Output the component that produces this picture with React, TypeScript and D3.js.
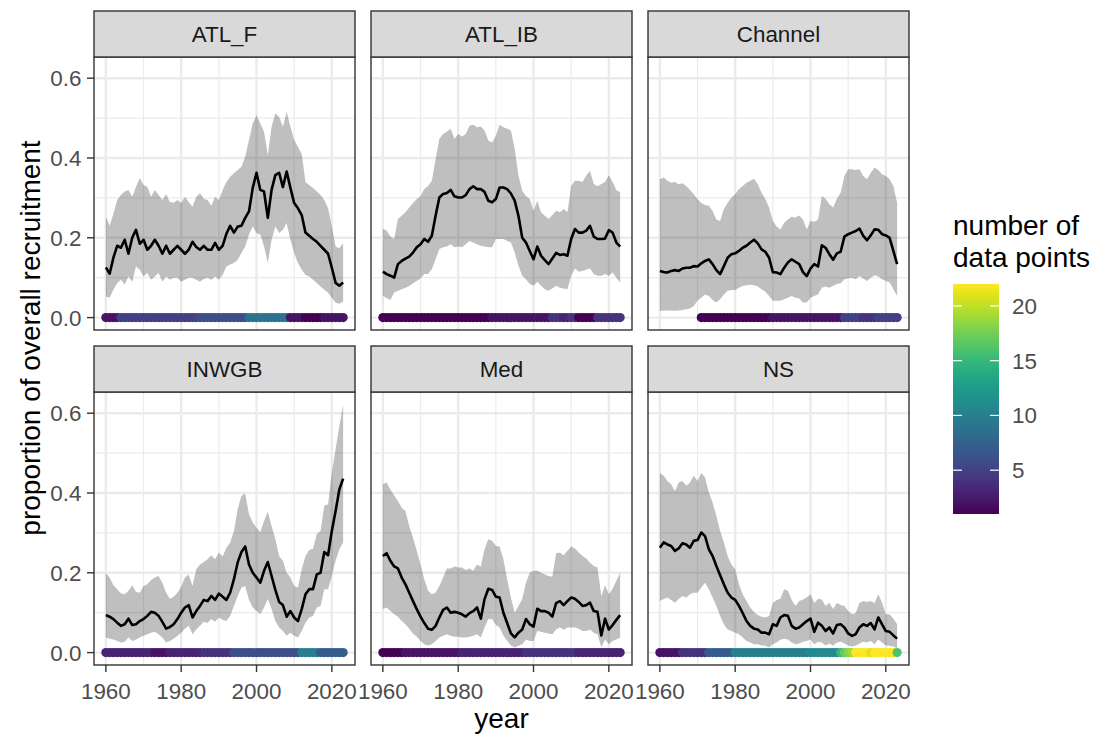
import React from 'react';
import * as d3 from 'd3';

const FIRST_YEAR = 1960;
const X_TICKS = [1960, 1980, 2000, 2020];
const X_MINOR = [1970, 1990, 2010];
const Y_TICKS = [0, 0.2, 0.4, 0.6];
const Y_MINOR = [0.1, 0.3, 0.5];
const LEGEND_TICKS = [5, 10, 15, 20];

const ATL_F_MEAN = [0.126,0.11,0.15,0.18,0.175,0.195,0.16,0.20,0.22,0.185,
 0.195,0.17,0.18,0.195,0.18,0.16,0.18,0.16,0.17,0.18,
 0.17,0.16,0.17,0.19,0.177,0.17,0.18,0.17,0.17,0.187,
 0.17,0.18,0.21,0.23,0.213,0.228,0.23,0.25,0.266,0.325,
 0.363,0.32,0.316,0.25,0.32,0.357,0.363,0.327,0.366,0.325,
 0.287,0.274,0.257,0.213,0.205,0.197,0.19,0.18,0.17,0.16,
 0.125,0.087,0.08,0.088];
const ATL_F_HI = [0.253,0.23,0.26,0.295,0.307,0.316,0.32,0.303,0.328,0.35,
 0.332,0.328,0.303,0.32,0.307,0.295,0.31,0.29,0.288,0.295,
 0.287,0.303,0.29,0.278,0.302,0.312,0.298,0.295,0.28,0.303,
 0.295,0.32,0.34,0.353,0.362,0.37,0.378,0.403,0.445,0.487,
 0.507,0.487,0.466,0.407,0.478,0.512,0.503,0.478,0.516,0.478,
 0.445,0.428,0.41,0.34,0.332,0.325,0.316,0.307,0.295,0.274,
 0.228,0.178,0.174,0.187];
const ATL_F_LO = [0.053,0.05,0.07,0.087,0.095,0.083,0.103,0.09,0.128,0.12,
 0.103,0.112,0.095,0.103,0.112,0.09,0.103,0.095,0.1,0.1,
 0.09,0.095,0.1,0.1,0.095,0.09,0.097,0.1,0.095,0.103,
 0.095,0.107,0.128,0.133,0.137,0.145,0.162,0.178,0.208,0.228,
 0.212,0.208,0.178,0.137,0.195,0.228,0.212,0.22,0.237,0.195,
 0.162,0.137,0.12,0.107,0.103,0.095,0.087,0.078,0.07,0.062,
 0.05,0.037,0.035,0.04];
const ATL_F_N = [2,2,2,2,5,5,5,5,5,5,
 5,5,5,5,5,5,5,5,5,5,
 5,5,5,5,5,6,6,6,6,6,
 6,6,6,6,6,6,6,6,9,9,
 9,9,9,9,9,9,9,9,9,2,
 2,2,2,1,1,1,1,1,2,2,
 2,2,2,2];

const ATL_IB_MEAN = [0.115,0.109,0.105,0.10,0.134,0.142,0.148,0.153,0.163,0.176,
 0.184,0.197,0.19,0.205,0.255,0.301,0.31,0.312,0.32,0.304,
 0.301,0.301,0.307,0.322,0.329,0.322,0.322,0.315,0.293,0.289,
 0.297,0.326,0.326,0.322,0.311,0.293,0.255,0.20,0.188,0.167,
 0.146,0.178,0.155,0.144,0.134,0.148,0.162,0.157,0.159,0.155,
 0.197,0.222,0.213,0.213,0.218,0.23,0.203,0.197,0.197,0.198,
 0.219,0.213,0.188,0.178];
const ATL_IB_HI = [0.222,0.218,0.203,0.197,0.247,0.255,0.264,0.276,0.287,0.297,
 0.305,0.322,0.33,0.343,0.397,0.448,0.46,0.466,0.473,0.448,
 0.46,0.454,0.46,0.481,0.483,0.477,0.479,0.469,0.444,0.439,
 0.456,0.483,0.477,0.473,0.469,0.423,0.356,0.318,0.305,0.297,
 0.268,0.293,0.264,0.255,0.247,0.257,0.268,0.264,0.272,0.264,
 0.33,0.343,0.343,0.34,0.356,0.368,0.335,0.329,0.335,0.34,
 0.357,0.34,0.32,0.314];
const ATL_IB_LO = [0.054,0.049,0.044,0.063,0.067,0.071,0.075,0.079,0.086,0.092,
 0.098,0.109,0.109,0.121,0.146,0.172,0.176,0.178,0.184,0.176,
 0.178,0.176,0.184,0.192,0.188,0.184,0.18,0.178,0.176,0.176,
 0.197,0.197,0.197,0.192,0.188,0.163,0.13,0.105,0.096,0.084,
 0.08,0.09,0.08,0.071,0.067,0.073,0.08,0.075,0.073,0.071,
 0.105,0.123,0.115,0.117,0.12,0.123,0.109,0.105,0.105,0.109,
 0.105,0.113,0.1,0.088];
const ATL_IB_N = [1,1,1,1,1,1,1,1,1,1,
 1,1,1,1,1,1,1,1,1,1,
 1,1,1,1,1,1,1,1,1,2,
 2,2,2,2,2,2,2,2,2,2,
 2,2,2,2,2,4,4,4,3,3,
 4,4,1,1,1,1,1,4,4,4,
 4,4,4,4];

const CHANNEL_MEAN = [0.117,0.114,0.113,0.117,0.119,0.117,0.123,0.125,0.125,0.129,
 0.128,0.136,0.142,0.146,0.134,0.119,0.109,0.129,0.15,0.159,
 0.161,0.167,0.175,0.18,0.188,0.195,0.186,0.171,0.165,0.15,
 0.114,0.113,0.109,0.125,0.138,0.146,0.14,0.134,0.114,0.104,
 0.123,0.134,0.128,0.181,0.175,0.159,0.145,0.161,0.165,0.203,
 0.209,0.213,0.217,0.223,0.205,0.194,0.206,0.221,0.22,0.209,
 0.206,0.2,0.167,0.134];
const CHANNEL_HI = [0.347,0.351,0.343,0.338,0.34,0.334,0.337,0.33,0.32,0.309,
 0.297,0.287,0.282,0.28,0.267,0.246,0.242,0.272,0.288,0.301,
 0.309,0.322,0.33,0.338,0.343,0.348,0.334,0.313,0.297,0.276,
 0.242,0.228,0.221,0.238,0.246,0.253,0.251,0.256,0.246,0.221,
 0.242,0.24,0.246,0.305,0.298,0.284,0.276,0.298,0.313,0.355,
 0.372,0.372,0.37,0.372,0.355,0.347,0.363,0.376,0.37,0.359,
 0.355,0.347,0.33,0.288];
const CHANNEL_LO = [0.017,0.017,0.018,0.018,0.017,0.018,0.019,0.021,0.023,0.029,
 0.042,0.05,0.058,0.054,0.044,0.038,0.046,0.058,0.067,0.069,
 0.069,0.075,0.079,0.081,0.082,0.081,0.078,0.071,0.065,0.054,
 0.042,0.042,0.042,0.046,0.05,0.054,0.05,0.048,0.038,0.038,
 0.05,0.054,0.058,0.075,0.078,0.075,0.079,0.084,0.086,0.096,
 0.098,0.1,0.096,0.104,0.098,0.092,0.1,0.106,0.103,0.096,
 0.092,0.088,0.071,0.054];
const CHANNEL_N = [0,0,0,0,0,0,0,0,0,0,
 0,1,1,1,1,1,1,1,1,1,
 1,1,1,1,1,1,1,1,1,1,
 2,2,2,2,2,2,2,2,2,2,
 2,2,2,2,2,2,2,2,2,5,
 5,5,5,5,4,4,4,4,5,5,
 5,5,5,5];

const INWGB_MEAN = [0.094,0.09,0.084,0.075,0.067,0.071,0.085,0.069,0.071,0.079,
 0.084,0.092,0.102,0.1,0.092,0.077,0.06,0.064,0.071,0.084,
 0.1,0.113,0.119,0.088,0.104,0.117,0.132,0.129,0.142,0.132,
 0.148,0.14,0.132,0.15,0.184,0.226,0.252,0.266,0.221,0.2,
 0.188,0.175,0.205,0.227,0.192,0.157,0.127,0.119,0.09,0.104,
 0.088,0.079,0.109,0.146,0.159,0.159,0.196,0.2,0.252,0.244,
 0.305,0.355,0.409,0.436];
const INWGB_HI = [0.199,0.188,0.169,0.159,0.149,0.146,0.155,0.169,0.152,0.15,
 0.167,0.171,0.182,0.188,0.192,0.175,0.15,0.135,0.14,0.15,
 0.165,0.188,0.196,0.167,0.209,0.221,0.227,0.234,0.244,0.234,
 0.251,0.241,0.263,0.276,0.305,0.359,0.393,0.399,0.347,0.326,
 0.313,0.302,0.33,0.353,0.317,0.284,0.242,0.23,0.2,0.188,
 0.167,0.163,0.209,0.242,0.257,0.26,0.297,0.305,0.368,0.372,
 0.451,0.51,0.568,0.622];
const INWGB_LO = [0.038,0.035,0.033,0.029,0.025,0.027,0.038,0.029,0.032,0.038,
 0.042,0.046,0.05,0.052,0.046,0.038,0.025,0.029,0.035,0.042,
 0.05,0.06,0.067,0.046,0.058,0.067,0.077,0.074,0.084,0.077,
 0.088,0.082,0.079,0.092,0.117,0.142,0.163,0.167,0.132,0.113,
 0.104,0.096,0.113,0.134,0.109,0.079,0.063,0.054,0.042,0.05,
 0.042,0.038,0.054,0.075,0.088,0.092,0.113,0.117,0.159,0.159,
 0.192,0.23,0.259,0.276];
const INWGB_N = [3,3,3,3,3,3,3,3,3,3,
 3,3,3,2,2,2,2,3,3,3,
 3,3,3,3,3,3,4,4,4,4,
 4,4,4,4,6,6,6,6,6,6,
 6,6,6,6,6,6,6,6,6,6,
 6,6,10,10,10,10,10,7,7,7,
 7,7,7,7];

const MED_MEAN = [0.242,0.249,0.23,0.216,0.211,0.188,0.171,0.15,0.129,0.109,
 0.09,0.074,0.06,0.057,0.067,0.088,0.107,0.113,0.1,0.102,
 0.1,0.096,0.09,0.099,0.104,0.113,0.085,0.134,0.16,0.157,
 0.14,0.138,0.1,0.074,0.048,0.038,0.05,0.058,0.084,0.071,
 0.065,0.11,0.104,0.104,0.1,0.09,0.124,0.129,0.119,0.129,
 0.138,0.135,0.127,0.117,0.119,0.125,0.104,0.102,0.043,0.085,
 0.058,0.069,0.082,0.094];
const MED_HI = [0.422,0.426,0.409,0.394,0.38,0.363,0.355,0.317,0.288,0.255,
 0.221,0.184,0.155,0.146,0.15,0.167,0.188,0.211,0.211,0.216,
 0.213,0.213,0.207,0.211,0.205,0.221,0.216,0.259,0.284,0.28,
 0.267,0.266,0.234,0.184,0.138,0.1,0.117,0.134,0.175,0.2,
 0.205,0.205,0.2,0.196,0.192,0.19,0.249,0.251,0.244,0.255,
 0.266,0.261,0.251,0.242,0.236,0.226,0.217,0.213,0.142,0.169,
 0.146,0.16,0.18,0.2];
const MED_LO = [0.109,0.113,0.104,0.096,0.09,0.079,0.071,0.06,0.048,0.04,
 0.029,0.021,0.018,0.021,0.029,0.038,0.042,0.046,0.042,0.04,
 0.04,0.038,0.038,0.04,0.042,0.046,0.038,0.063,0.084,0.084,
 0.069,0.063,0.043,0.029,0.018,0.013,0.017,0.021,0.032,0.029,
 0.029,0.054,0.052,0.05,0.048,0.046,0.058,0.063,0.057,0.063,
 0.063,0.063,0.06,0.054,0.054,0.058,0.05,0.046,0.013,0.033,
 0.021,0.029,0.033,0.038];
const MED_N = [1,1,1,1,1,1,2,2,2,2,
 2,2,2,2,2,2,2,2,2,2,
 2,3,3,3,3,3,3,3,3,3,
 3,3,3,3,3,3,3,3,4,4,
 4,4,4,4,4,4,4,4,4,4,
 4,4,3,3,3,3,3,3,3,3,
 3,3,3,3];

const NS_MEAN = [0.263,0.276,0.271,0.267,0.255,0.261,0.274,0.271,0.263,0.28,
 0.282,0.301,0.292,0.259,0.242,0.217,0.194,0.171,0.15,0.138,
 0.132,0.117,0.099,0.079,0.067,0.06,0.058,0.05,0.05,0.046,
 0.071,0.067,0.088,0.094,0.092,0.067,0.06,0.063,0.071,0.079,
 0.085,0.052,0.075,0.067,0.054,0.063,0.048,0.069,0.071,0.063,
 0.048,0.042,0.046,0.063,0.071,0.067,0.074,0.058,0.088,0.071,
 0.054,0.052,0.043,0.035];
const NS_HI = [0.451,0.443,0.43,0.422,0.405,0.426,0.43,0.418,0.426,0.443,
 0.43,0.451,0.439,0.401,0.376,0.343,0.305,0.276,0.242,0.221,
 0.209,0.171,0.146,0.129,0.113,0.102,0.094,0.09,0.088,0.092,
 0.124,0.132,0.135,0.159,0.155,0.132,0.117,0.129,0.133,0.138,
 0.146,0.124,0.135,0.133,0.117,0.125,0.109,0.124,0.119,0.117,
 0.104,0.096,0.099,0.125,0.129,0.127,0.129,0.124,0.146,0.125,
 0.096,0.096,0.085,0.071];
const NS_LO = [0.129,0.134,0.138,0.132,0.125,0.134,0.142,0.138,0.146,0.15,
 0.15,0.163,0.175,0.159,0.138,0.117,0.092,0.071,0.058,0.054,
 0.05,0.046,0.038,0.029,0.025,0.021,0.021,0.018,0.017,0.013,
 0.021,0.025,0.032,0.035,0.033,0.025,0.021,0.023,0.027,0.029,
 0.033,0.021,0.027,0.025,0.018,0.023,0.017,0.025,0.027,0.023,
 0.018,0.015,0.017,0.023,0.027,0.025,0.029,0.021,0.033,0.025,
 0.018,0.017,0.015,0.01];
const NS_N = [2,2,2,2,2,2,4,4,4,4,
 4,4,4,7,7,7,7,7,7,7,
 10,10,10,10,10,10,10,10,10,10,
 10,10,10,10,10,10,10,10,10,10,
 11,11,11,11,11,11,11,11,15,17,
 18,19,22,22,22,22,21,22,22,22,
 22,22,22,16];

const PANELS = [
  { name: 'ATL_F', mean: ATL_F_MEAN, lo: ATL_F_LO, hi: ATL_F_HI, n: ATL_F_N },
  { name: 'ATL_IB', mean: ATL_IB_MEAN, lo: ATL_IB_LO, hi: ATL_IB_HI, n: ATL_IB_N },
  { name: 'Channel', mean: CHANNEL_MEAN, lo: CHANNEL_LO, hi: CHANNEL_HI, n: CHANNEL_N },
  { name: 'INWGB', mean: INWGB_MEAN, lo: INWGB_LO, hi: INWGB_HI, n: INWGB_N },
  { name: 'Med', mean: MED_MEAN, lo: MED_LO, hi: MED_HI, n: MED_N },
  { name: 'NS', mean: NS_MEAN, lo: NS_LO, hi: NS_HI, n: NS_N },
];

const FONT = "'Liberation Sans', Arial, Helvetica, sans-serif";

export default function App() {
  const W = 1099, H = 736;
  const colX = [94, 371, 648];
  const PW = 261;
  const stripTop = [11, 346];
  const SH = 46;
  const PH = 273;

  const years = ATL_F_MEAN.map((_, i) => FIRST_YEAR + i);
  const x0 = d3.min(years) as number, x1 = d3.max(years) as number;
  const xPad = (x1 - x0) * 0.05;
  const yMax = d3.max(PANELS.flatMap(p => p.hi)) as number;
  const yMin = 0;
  const yPad = (yMax - yMin) * 0.05;

  const allN = PANELS.flatMap(p => p.n).filter(v => v > 0);
  const nMin = d3.min(allN) as number, nMax = d3.max(allN) as number;
  const color = d3.scaleSequential(d3.interpolateViridis).domain([nMin, nMax]);

  const tickCol = '#333333';
  const labCol = '#4D4D4D';
  const gridCol = '#EBEBEB';

  // legend geometry
  const LX = 953, LW = 46, LTop = 284, LBot = 514;
  const ly = d3.scaleLinear().domain([nMin, nMax]).range([LBot, LTop]);
  const stops = d3.range(0, 1.0001, 0.05);

  return (
    <svg width={W} height={H} style={{ position: 'absolute', left: 0, top: 0, background: '#fff' }} fontFamily={FONT}>
      <rect x={0} y={0} width={W} height={H} fill="#fff" />
      <defs>
        <linearGradient id="vir" x1="0" y1="1" x2="0" y2="0">
          {stops.map((t, i) => (
            <stop key={i} offset={t} stopColor={d3.interpolateViridis(t)} />
          ))}
        </linearGradient>
      </defs>
      {PANELS.map((p, pi) => {
        const col = pi % 3, row = Math.floor(pi / 3);
        const px = colX[col];
        const st = stripTop[row];
        const pt = st + SH;
        const pb = pt + PH;
        const x = d3.scaleLinear().domain([x0 - xPad, x1 + xPad]).range([px, px + PW]);
        const y = d3.scaleLinear().domain([yMin - yPad, yMax + yPad]).range([pb, pt]);
        const area = d3.area<number>()
          .x((_, i) => x(years[i]))
          .y0((_, i) => y(p.lo[i]))
          .y1((_, i) => y(p.hi[i]));
        const line = d3.line<number>()
          .x((_, i) => x(years[i]))
          .y(d => y(d));
        return (
          <g key={p.name}>
            <rect x={px} y={pt} width={PW} height={PH} fill="#fff" />
            {Y_MINOR.map(v => (
              <line key={'ym' + v} x1={px} x2={px + PW} y1={y(v)} y2={y(v)} stroke={gridCol} strokeWidth={1.2} />
            ))}
            {X_MINOR.map(v => (
              <line key={'xm' + v} x1={x(v)} x2={x(v)} y1={pt} y2={pb} stroke={gridCol} strokeWidth={1.2} />
            ))}
            {Y_TICKS.map(v => (
              <line key={'yM' + v} x1={px} x2={px + PW} y1={y(v)} y2={y(v)} stroke={gridCol} strokeWidth={2.4} />
            ))}
            {X_TICKS.map(v => (
              <line key={'xM' + v} x1={x(v)} x2={x(v)} y1={pt} y2={pb} stroke={gridCol} strokeWidth={2.4} />
            ))}
            <path d={area(p.mean) as string} fill="#000" fillOpacity={0.25} />
            <path d={line(p.mean) as string} fill="none" stroke="#000" strokeWidth={2.6} strokeLinejoin="round" />
            {p.n.map((c, i) => c > 0 ? (
              <circle key={'pt' + i} cx={x(years[i])} cy={y(0)} r={4.6} fill={color(c)} />
            ) : null)}
            <rect x={px} y={pt} width={PW} height={PH} fill="none" stroke="#333333" strokeWidth={1.4} />
            <rect x={px} y={st} width={PW} height={SH} fill="#D9D9D9" stroke="#333333" strokeWidth={1.4} />
            <text x={px + PW / 2} y={st + SH / 2} dy="0.36em" textAnchor="middle" fontSize={22.4} fill="#1A1A1A">{p.name}</text>
            {col === 0 && Y_TICKS.map(v => (
              <g key={'yt' + v}>
                <line x1={px - 7} x2={px} y1={y(v)} y2={y(v)} stroke={tickCol} strokeWidth={1.4} />
                <text x={px - 12.5} y={y(v)} dy="0.36em" textAnchor="end" fontSize={22.4} fill={labCol}>{d3.format('.1f')(v)}</text>
              </g>
            ))}
            {row === 1 && X_TICKS.map(v => (
              <g key={'xt' + v}>
                <line x1={x(v)} x2={x(v)} y1={pb} y2={pb + 7} stroke={tickCol} strokeWidth={1.4} />
                <text x={x(v)} y={pb + 34} textAnchor="middle" fontSize={22.4} fill={labCol}>{v}</text>
              </g>
            ))}
          </g>
        );
      })}
      <text x={(colX[0] + colX[2] + PW) / 2} y={728} textAnchor="middle" fontSize={28} fill="#000">year</text>
      <text transform={`translate(40,${(stripTop[0] + stripTop[1] + SH + PH) / 2}) rotate(-90)`} textAnchor="middle" fontSize={28} fill="#000">proportion of overall recruitment</text>
      <text x={LX} y={235} fontSize={28} fill="#000">number of</text>
      <text x={LX} y={267} fontSize={28} fill="#000">data points</text>
      <rect x={LX} y={LTop} width={LW} height={LBot - LTop} fill="url(#vir)" />
      {LEGEND_TICKS.map(v => (
        <g key={'lt' + v}>
          <line x1={LX} x2={LX + 9} y1={ly(v)} y2={ly(v)} stroke="#fff" strokeWidth={1.2} />
          <line x1={LX + LW - 9} x2={LX + LW} y1={ly(v)} y2={ly(v)} stroke="#fff" strokeWidth={1.2} />
          <text x={LX + LW + 13} y={ly(v)} dy="0.36em" fontSize={22.4} fill={labCol}>{v}</text>
        </g>
      ))}
    </svg>
  );
}
